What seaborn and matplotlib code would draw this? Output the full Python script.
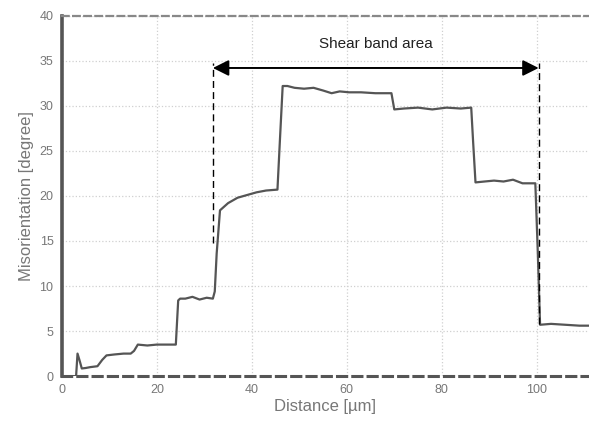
import matplotlib
matplotlib.use('Agg')
import matplotlib.pyplot as plt
import seaborn as sns
import pandas as pd

# ── Data ──────────────────────────────────────────────────────────────────────
distance = [0, 3.0, 3.3, 3.7, 4.2, 5, 6, 7.5, 8.5, 9.4, 11, 13, 14.5, 15.2,
            16.0, 18, 20, 22, 24.0, 24.5, 24.9, 26, 27.5, 29, 30.5, 31.8,
            32.2, 32.6, 33.3, 35, 37, 39, 41, 43, 45.4, 45.9, 46.5, 47.5,
            49, 51, 53, 55, 56.8, 58.5, 60.5, 63, 66, 69.4, 70, 72, 75, 78,
            81, 84, 86.2, 86.6, 87.1, 89, 91, 93, 95, 97, 99.7, 100.2, 100.7,
            103, 106, 109, 111]
misorientation = [0, 0, 2.5, 1.8, 0.85, 0.9, 1.0, 1.1, 1.8, 2.3, 2.4, 2.5, 2.5,
                  2.8, 3.5, 3.4, 3.5, 3.5, 3.5, 8.4, 8.6, 8.6, 8.8, 8.5, 8.7,
                  8.6, 9.4, 13.6, 18.4, 19.2, 19.8, 20.1, 20.4, 20.6, 20.7, 26,
                  32.2, 32.2, 32.0, 31.9, 32.0, 31.7, 31.4, 31.6, 31.5, 31.5,
                  31.4, 31.4, 29.6, 29.7, 29.8, 29.6, 29.8, 29.7, 29.8, 26,
                  21.5, 21.6, 21.7, 21.6, 21.8, 21.4, 21.4, 14, 5.7, 5.8, 5.7,
                  5.6, 5.6]

band_edges = [31.8, 100.4]        # dashed markers of the shear band
band_bottoms = [14.8, 5.8]
band_top = 34.8
arrow_y = 34.2
band_label = 'Shear band area'

df = pd.DataFrame({'Distance': distance, 'Misorientation': misorientation})

# ── Styling ───────────────────────────────────────────────────────────────────
sns.set_theme(style='white')
plt.rcParams['font.family'] = ['Liberation Sans', 'DejaVu Sans']

fig = plt.figure(figsize=(5.89, 4.25), dpi=100)
ax = fig.add_axes([0.105, 0.115, 0.895, 0.848])

sns.lineplot(data=df, x='Distance', y='Misorientation', ax=ax, sort=False,
             estimator=None, color='#555555', linewidth=1.6)

ax.set_xlim(0, 111)
ax.set_ylim(0, 40)
ax.set_xticks([0, 20, 40, 60, 80, 100])
ax.set_yticks(range(0, 41, 5))
ax.grid(True, linestyle=':', color='#d0d0d0', linewidth=0.9)
ax.tick_params(axis='both', length=0, labelsize=9, labelcolor='#777777', pad=6)

ax.set_xlabel('Distance [µm]', fontsize=12, color='#777777', labelpad=2)
ax.set_ylabel('Misorientation [degree]', fontsize=12, color='#777777', labelpad=4)

# spines
ax.spines['right'].set_visible(False)
ax.spines['left'].set_color('#555555')
ax.spines['left'].set_linewidth(2.6)
ax.spines['bottom'].set_color('#555555')
ax.spines['bottom'].set_linewidth(2.2)
ax.spines['bottom'].set_linestyle((0, (3, 2)))
ax.spines['top'].set_color('#888888')
ax.spines['top'].set_linewidth(1.6)
ax.spines['top'].set_linestyle((0, (3, 2)))

# shear band annotation
for xe, yb in zip(band_edges, band_bottoms):
    ax.plot([xe, xe], [yb, band_top], color='black', linestyle=(0, (5, 3)),
            linewidth=1.0)
ax.annotate('', xy=(band_edges[0], arrow_y), xytext=(band_edges[1], arrow_y),
            arrowprops=dict(arrowstyle='<|-|>', color='black', lw=1.4,
                            mutation_scale=24, shrinkA=0, shrinkB=0))
ax.text(sum(band_edges) / 2, 36.9, band_label, ha='center', va='center',
        fontsize=11, color='#222222')

fig.savefig('out.png', dpi=100)
